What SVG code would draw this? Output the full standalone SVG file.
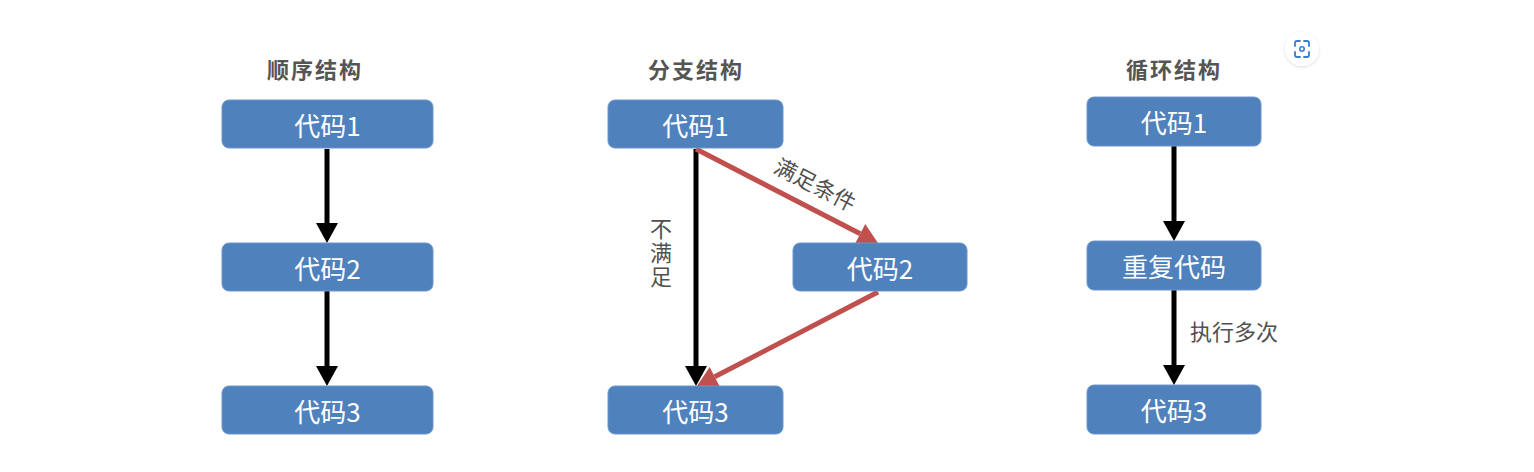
<svg xmlns="http://www.w3.org/2000/svg" width="1534" height="472" viewBox="0 0 1534 472">
  <defs>
    <style>
      .box { fill: #4f81bd; stroke: #6d96cb; stroke-width: 1; }
      .bt { font-family: "Noto Sans CJK SC", "Noto Sans", sans-serif; font-size: 26px; fill: #ffffff; text-anchor: middle; dominant-baseline: central; }
      .title { font-family: "Noto Sans CJK SC", sans-serif; font-size: 22px; font-weight: bold; fill: #555555; text-anchor: middle; dominant-baseline: central; letter-spacing: 2px; }
      .lbl { font-family: "Noto Sans CJK SC", sans-serif; font-size: 22px; fill: #505050; text-anchor: middle; dominant-baseline: central; }
      .vlbl { font-family: "Noto Sans CJK SC", sans-serif; font-size: 22px; fill: #505050; text-anchor: middle; writing-mode: vertical-rl; letter-spacing: 2px; }
      .blk { stroke: #000000; stroke-width: 5; fill: none; marker-end: url(#ah-black); }
      .red { stroke: #c0504d; stroke-width: 5; fill: none; marker-end: url(#ah-red); }
    </style>
    <marker id="ah-black" markerUnits="userSpaceOnUse" markerWidth="22" markerHeight="24" refX="0" refY="11" orient="auto" overflow="visible">
      <path d="M0,0 L20,11 L0,22 Z" fill="#000000"/>
    </marker>
    <marker id="ah-red" markerUnits="userSpaceOnUse" markerWidth="22" markerHeight="24" refX="0" refY="11" orient="auto" overflow="visible">
      <path d="M0,0 L20,11 L0,22 Z" fill="#c0504d"/>
    </marker>
    <filter id="sh" x="-50%" y="-50%" width="200%" height="200%">
      <feDropShadow dx="0" dy="1" stdDeviation="1.5" flood-color="#000000" flood-opacity="0.15"/>
    </filter>
  </defs>
  <rect width="1534" height="472" fill="#ffffff"/>

  <!-- titles -->
  <text class="title" x="315" y="68">顺序结构</text>
  <text class="title" x="696" y="68">分支结构</text>
  <text class="title" x="1174" y="68">循环结构</text>

  <g id="connectors">
    <line class="blk" x1="327" y1="149" x2="327" y2="223"/>
    <line class="blk" x1="327" y1="291" x2="327" y2="366"/>
    <line class="blk" x1="696" y1="149" x2="696" y2="366"/>
    <line class="red" x1="696" y1="149" x2="860.2" y2="233.8"/>
    <line class="red" x1="878" y1="292" x2="714.7" y2="376.8"/>
    <line class="blk" x1="1174" y1="146" x2="1174" y2="221"/>
    <line class="blk" x1="1174" y1="290" x2="1174" y2="365"/>
    <text class="lbl" transform="translate(816,183) rotate(27.3)">满足条件</text>
    <text class="vlbl" x="661" y="254">不满足</text>
    <text class="lbl" x="1234" y="330">执行多次</text>
  </g>

  <g id="seq-code1"><rect class="box" x="222" y="100" width="211" height="48" rx="7"/><text class="bt" x="327.5" y="124">代码1</text></g>
  <g id="seq-code2"><rect class="box" x="222" y="243" width="211" height="48" rx="7"/><text class="bt" x="327.5" y="267">代码2</text></g>
  <g id="seq-code3"><rect class="box" x="222" y="386" width="211" height="48" rx="7"/><text class="bt" x="327.5" y="410">代码3</text></g>

  <g id="br-code1"><rect class="box" x="608" y="100" width="175" height="48" rx="7"/><text class="bt" x="695.5" y="124">代码1</text></g>
  <g id="br-code2"><rect class="box" x="793" y="243" width="174" height="48" rx="7"/><text class="bt" x="880" y="267">代码2</text></g>
  <g id="br-code3"><rect class="box" x="608" y="386" width="175" height="48" rx="7"/><text class="bt" x="695.5" y="410">代码3</text></g>

  <g id="lp-code1"><rect class="box" x="1087" y="97" width="174" height="49" rx="7"/><text class="bt" x="1174" y="121.5">代码1</text></g>
  <g id="lp-repeat"><rect class="box" x="1087" y="241" width="174" height="49" rx="7"/><text class="bt" x="1174" y="265.5">重复代码</text></g>
  <g id="lp-code3"><rect class="box" x="1087" y="385" width="174" height="49" rx="7"/><text class="bt" x="1174" y="409.5">代码3</text></g>

  <g id="scan-icon">
    <circle cx="1302" cy="49" r="17" fill="#ffffff" filter="url(#sh)"/>
    <path d="M1295,46 v-3 a2,2 0 0 1 2,-2 h3 M1304,41 h3 a2,2 0 0 1 2,2 v3 M1309,52 v3 a2,2 0 0 1 -2,2 h-3 M1300,57 h-3 a2,2 0 0 1 -2,-2 v-3" fill="none" stroke="#3a7bd5" stroke-width="1.8" stroke-linecap="round"/>
    <circle cx="1302" cy="49" r="2.2" fill="none" stroke="#3a7bd5" stroke-width="1.6"/>
  </g>
</svg>
